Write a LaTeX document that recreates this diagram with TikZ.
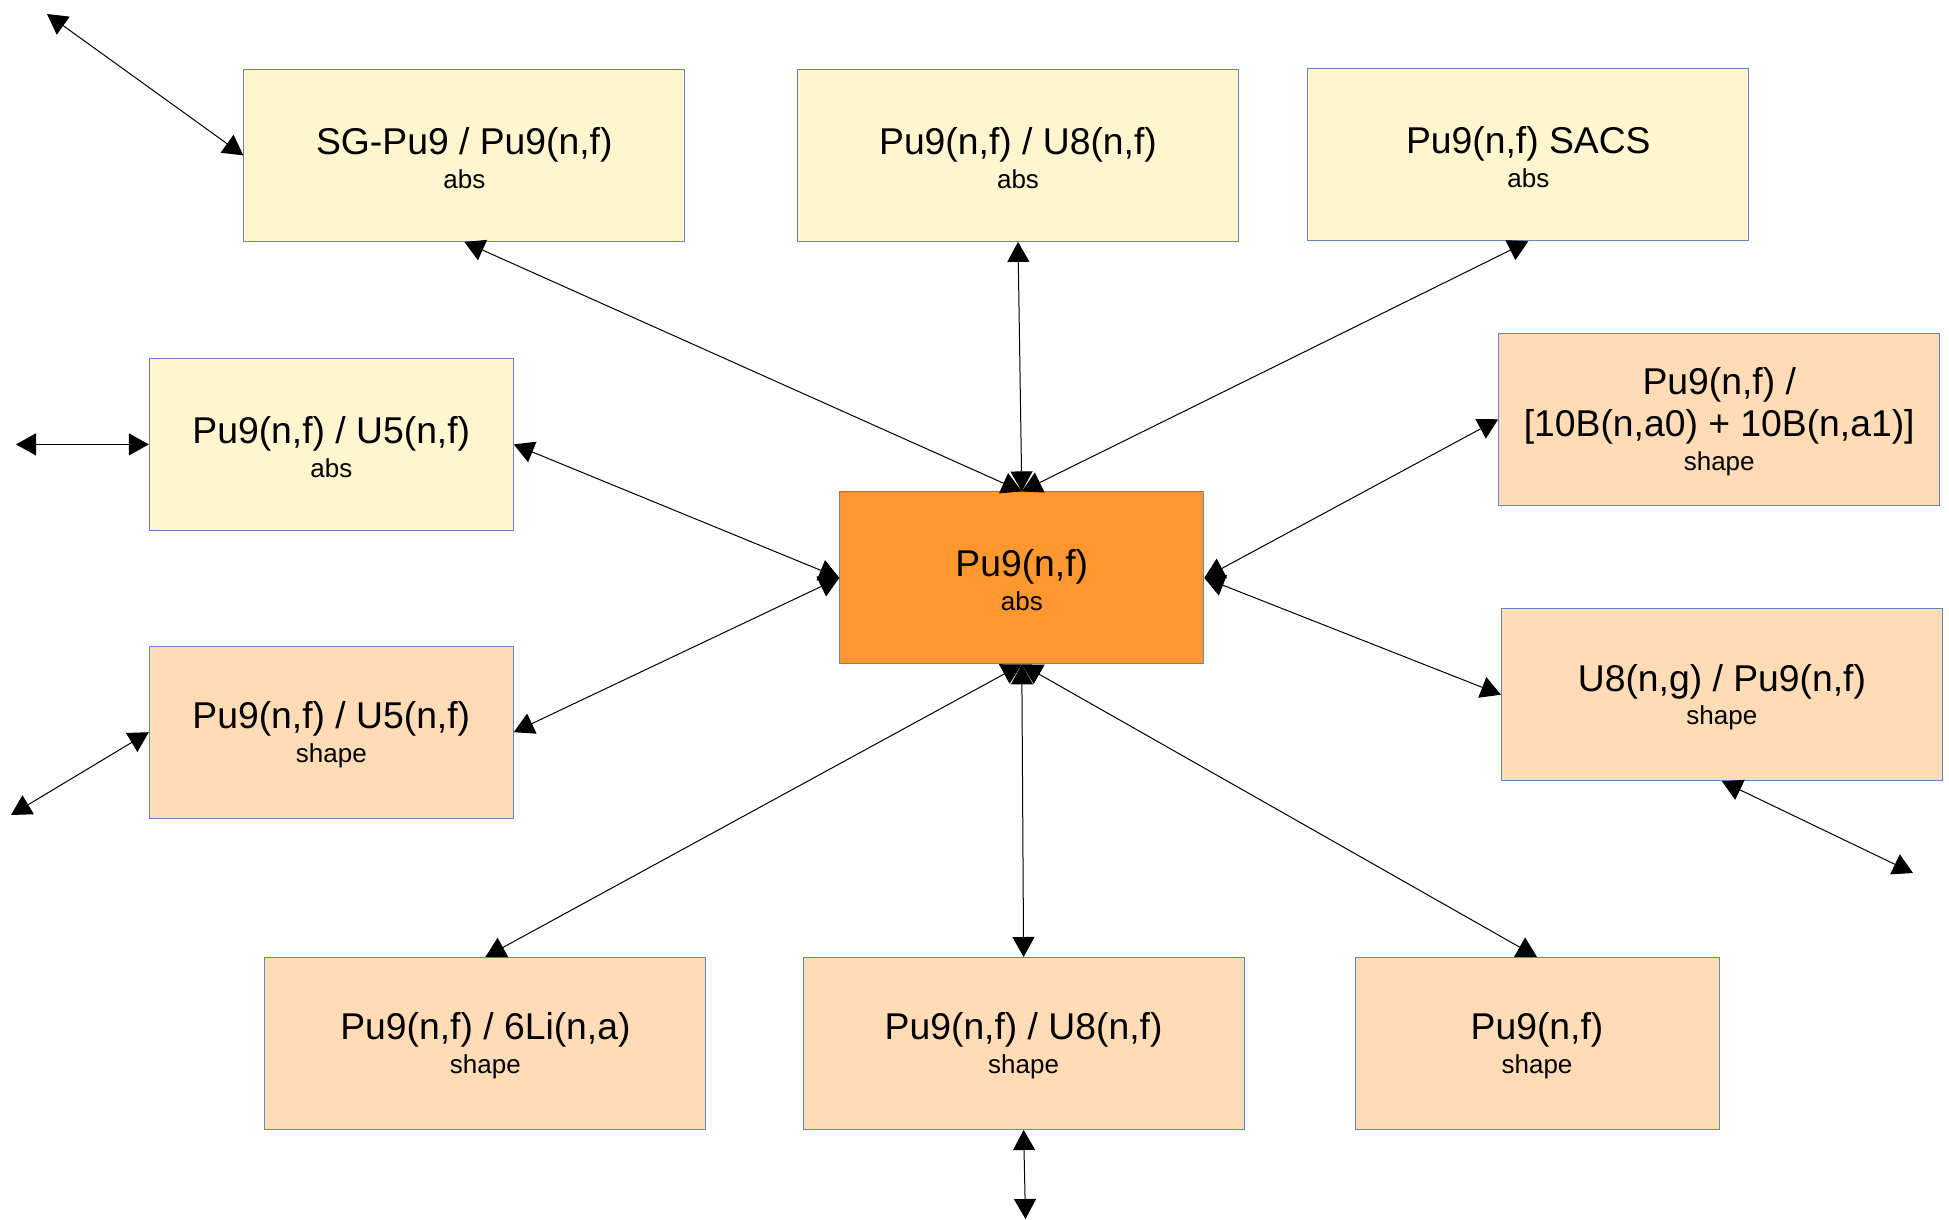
\documentclass[tikz,border=0pt]{standalone}
\usepackage{fontspec}
\setmainfont{Liberation Sans}
\usepackage{tikz}
\usetikzlibrary{arrows.meta,positioning}
\definecolor{boxline}{RGB}{99,133,190}
\definecolor{absfill}{HTML}{FFF5CE}
\definecolor{shapefill}{HTML}{FFDBB6}
\definecolor{midfill}{HTML}{FF972F}
\newcommand{\lead}{\rule{0pt}{16pt}}
\newcommand{\kind}[1]{\\[-4pt]{\fontsize{13}{15}\selectfont #1}}
\tikzset{
  box/.style={draw=boxline, line width=0.5pt, align=center, inner sep=0pt,
    minimum height=86pt, font=\fontsize{18.65}{20.85}\selectfont},
  wide/.style={box, minimum width=220.5pt},
  narrow/.style={box, minimum width=182pt},
  absbox/.style={fill=absfill},
  shapebox/.style={fill=shapefill},
  link/.style={line width=0.5pt, {Triangle[length=10pt,width=11pt]}-{Triangle[length=10pt,width=11pt]}}
}
\begin{document}
\begin{tikzpicture}[x=0.5pt,y=-0.5pt]
\useasboundingbox (0,0) rectangle (1949,1220);

\node[wide,absbox] (sg) at (464.3,155.4) {\lead SG-Pu9 / Pu9(n,f)\kind{abs}};
\node[wide,absbox] (u8abs) at (1018,155.4) {\lead Pu9(n,f) / U8(n,f)\kind{abs}};
\node[wide,absbox] (sacs) at (1528.3,154.8) {\lead Pu9(n,f) SACS\kind{abs}};
\node[narrow,absbox] (u5abs) at (331.3,444.4) {\lead Pu9(n,f) / U5(n,f)\kind{abs}};
\node[narrow,shapebox] (u5shp) at (331.3,732.2) {\lead Pu9(n,f) / U5(n,f)\kind{shape}};
\node[narrow,fill=midfill] (mid) at (1021.8,577.9) {\lead Pu9(n,f)\kind{abs}};
\node[wide,shapebox] (tenb) at (1719.2,419.3) {\lead Pu9(n,f) /\\{}[10B(n,a0) + 10B(n,a1)]\kind{shape}};
\node[wide,shapebox] (u8ng) at (1721.9,694.7) {\lead U8(n,g) / Pu9(n,f)\kind{shape}};
\node[wide,shapebox] (li6) at (485.4,1043.5) {\lead Pu9(n,f) / 6Li(n,a)\kind{shape}};
\node[wide,shapebox] (u8shp) at (1023.6,1043.5) {\lead Pu9(n,f) / U8(n,f)\kind{shape}};
\node[narrow,shapebox] (pu9shp) at (1537,1043.5) {\lead Pu9(n,f)\kind{shape}};

\coordinate (fsg) at (47,14);
\coordinate (fu5a) at (16,444.4);
\coordinate (fu5s) at (11,815);
\coordinate (fu8ng) at (1913,873);
\coordinate (fu8shp) at (1025.5,1219);

\draw[link] (sg.south) -- (mid.north);
\draw[link] (u8abs.south) -- (mid.north);
\draw[link] (sacs.south) -- (mid.north);
\draw[link] (u5abs.east) -- (mid.west);
\draw[link] (u5shp.east) -- (mid.west);
\draw[link] (tenb.west) -- (mid.east);
\draw[link] (u8ng.west) -- (mid.east);
\draw[link] (li6.north) -- (mid.south);
\draw[link] (u8shp.north) -- (mid.south);
\draw[link] (pu9shp.north) -- (mid.south);

\draw[link] (fsg) -- (sg.west);
\draw[link] (fu5a) -- (u5abs.west);
\draw[link] (fu5s) -- (u5shp.west);
\draw[link] (u8ng.south) -- (fu8ng);
\draw[link] (u8shp.south) -- (fu8shp);
\end{tikzpicture}
\end{document}
